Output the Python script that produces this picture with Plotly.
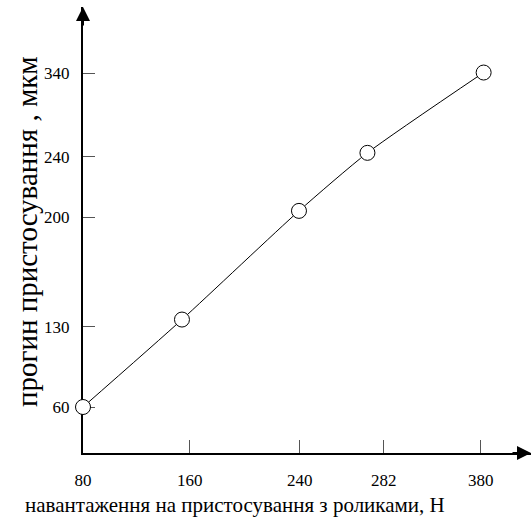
import plotly.graph_objects as go

# Values (calibrated on the 80/380 and 60/340 ticks)
load_x = [80, 154.6, 242.8, 294.4, 382]
deflection_y = [60, 133.4, 224.6, 273.3, 340.7]

# Tick labels and where they sit on the (linear) axes in the picture
x_tick_labels = ["80", "160", "240", "282", "380"]
x_tick_pos = [80, 160.4, 243.3, 306.7, 379.8]
y_tick_labels = ["60", "130", "200", "240", "340"]
y_tick_pos = [60, 127.4, 219.1, 270.0, 340]

x_range = [80, 417.7]
y_range = [21.4, 395.7]

FONT = "Liberation Serif"

fig = go.Figure()
fig.add_trace(go.Scatter(
    x=load_x, y=deflection_y,
    mode="lines+markers",
    line=dict(color="black", width=1, shape="spline", smoothing=0.6),
    marker=dict(symbol="circle", size=15, color="white",
                line=dict(color="black", width=1)),
    cliponaxis=False,
    showlegend=False,
))

fig.update_layout(
    width=532, height=527,
    margin=dict(l=83, r=1, t=7, b=74, autoexpand=False),
    plot_bgcolor="white", paper_bgcolor="white",
    font=dict(family=FONT, color="black", size=17),
    xaxis=dict(
        range=x_range, showgrid=False, zeroline=False,
        showline=True, linecolor="black", linewidth=2,
        layer="below traces",
        tickmode="array", tickvals=x_tick_pos, ticktext=x_tick_labels,
        ticks="inside", ticklen=13, tickwidth=1, tickcolor="#555",
        ticklabelstandoff=11,
        tickfont=dict(family=FONT, size=17, color="black"),
    ),
    yaxis=dict(
        range=y_range, showgrid=False, zeroline=False,
        showline=True, linecolor="black", linewidth=2,
        layer="below traces",
        tickmode="array", tickvals=y_tick_pos, ticktext=y_tick_labels,
        ticks="inside", ticklen=12, tickwidth=1, tickcolor="#555",
        ticklabelstandoff=8,
        tickfont=dict(family=FONT, size=17, color="black"),
    ),
    annotations=[
        dict(x=x_range[1], y=y_range[0], xref="x", yref="y",
             ax=-20, ay=0, text="", showarrow=True,
             arrowhead=2, arrowsize=1.4, arrowwidth=2, arrowcolor="black"),
        dict(x=x_range[0], y=y_range[1], xref="x", yref="y",
             ax=0, ay=20, text="", showarrow=True,
             arrowhead=2, arrowsize=1.4, arrowwidth=2, arrowcolor="black"),
        dict(x=235, y=505, xref="paper", yref="paper",
             text="навантаження на пристосування з роликами, Н",
             showarrow=False, font=dict(family=FONT, size=21, color="black"),
             xanchor="center", yanchor="middle"),
        dict(x=27, y=232, xref="paper", yref="paper",
             text="прогин пристосування , мкм", textangle=-90,
             showarrow=False, font=dict(family=FONT, size=29, color="black"),
             xanchor="center", yanchor="middle"),
    ],
)

# Convert pixel-placed titles to paper coordinates
W, H = 532, 527
m = fig.layout.margin
pw, ph = W - m.l - m.r, H - m.t - m.b
for a in fig.layout.annotations[2:]:
    px, py = a.x, a.y
    a.x = (px - m.l) / pw
    a.y = 1 - (py - m.t) / ph

fig.write_html(
    "out.html",
    config={"displayModeBar": False, "staticPlot": True},
    post_script="document.body.style.margin='0';document.body.style.overflow='hidden';",
)
